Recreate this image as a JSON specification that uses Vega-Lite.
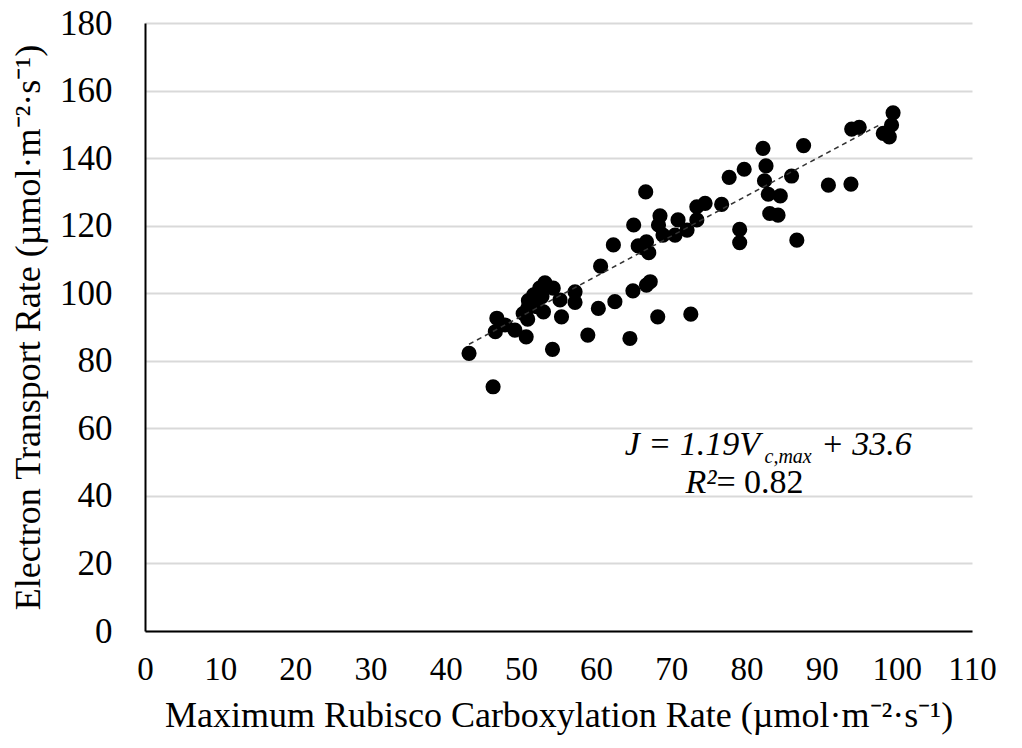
{
  "$schema": "https://vega.github.io/schema/vega-lite/v6.json",
  "width": 827,
  "height": 608,
  "autosize": {"type": "none"},
  "padding": {"left": 145, "top": 23, "right": 50, "bottom": 117},
  "background": "white",
  "config": {"view": {"stroke": null}},
  "datasets": {
    "pts": [
      {"vcmax": 43.1, "j": 82.2}, {"vcmax": 46.3, "j": 72.3}, {"vcmax": 46.8, "j": 92.6},
      {"vcmax": 46.6, "j": 88.6}, {"vcmax": 47.9, "j": 90.6}, {"vcmax": 49.2, "j": 89.1},
      {"vcmax": 50.7, "j": 87.1}, {"vcmax": 50.9, "j": 92.3}, {"vcmax": 50.9, "j": 95.5},
      {"vcmax": 51.0, "j": 97.8}, {"vcmax": 51.7, "j": 99.5}, {"vcmax": 52.5, "j": 101.5},
      {"vcmax": 53.2, "j": 103.1}, {"vcmax": 54.3, "j": 101.5}, {"vcmax": 52.1, "j": 96.0},
      {"vcmax": 53.0, "j": 94.5}, {"vcmax": 55.2, "j": 98.0}, {"vcmax": 55.4, "j": 93.0},
      {"vcmax": 54.2, "j": 83.4}, {"vcmax": 57.2, "j": 100.4}, {"vcmax": 57.2, "j": 97.3},
      {"vcmax": 58.9, "j": 87.6}, {"vcmax": 60.3, "j": 95.5}, {"vcmax": 62.5, "j": 97.5},
      {"vcmax": 64.5, "j": 86.6}, {"vcmax": 64.9, "j": 100.7}, {"vcmax": 60.6, "j": 108.0},
      {"vcmax": 62.3, "j": 114.3}, {"vcmax": 65.0, "j": 120.2}, {"vcmax": 66.6, "j": 130.0},
      {"vcmax": 65.6, "j": 114.0}, {"vcmax": 66.7, "j": 115.2}, {"vcmax": 67.0, "j": 112.0},
      {"vcmax": 66.7, "j": 102.4}, {"vcmax": 67.2, "j": 103.4}, {"vcmax": 68.2, "j": 93.0},
      {"vcmax": 72.6, "j": 93.8}, {"vcmax": 68.5, "j": 122.9}, {"vcmax": 68.3, "j": 120.2},
      {"vcmax": 68.9, "j": 117.2}, {"vcmax": 70.9, "j": 121.7}, {"vcmax": 70.5, "j": 117.2},
      {"vcmax": 72.1, "j": 118.7}, {"vcmax": 73.4, "j": 121.7}, {"vcmax": 73.4, "j": 125.6},
      {"vcmax": 74.5, "j": 126.6}, {"vcmax": 76.7, "j": 126.3}, {"vcmax": 77.7, "j": 134.3},
      {"vcmax": 79.7, "j": 136.7}, {"vcmax": 79.1, "j": 118.9}, {"vcmax": 79.1, "j": 115.0},
      {"vcmax": 82.2, "j": 142.9}, {"vcmax": 87.6, "j": 143.7}, {"vcmax": 82.6, "j": 137.7},
      {"vcmax": 82.4, "j": 133.3}, {"vcmax": 82.9, "j": 129.3}, {"vcmax": 84.5, "j": 128.8},
      {"vcmax": 86.0, "j": 134.7}, {"vcmax": 83.1, "j": 123.6}, {"vcmax": 84.2, "j": 123.1},
      {"vcmax": 90.9, "j": 132.0}, {"vcmax": 93.9, "j": 132.3}, {"vcmax": 94.0, "j": 148.6},
      {"vcmax": 95.0, "j": 149.1}, {"vcmax": 99.5, "j": 153.4}, {"vcmax": 99.3, "j": 149.8},
      {"vcmax": 98.2, "j": 147.3}, {"vcmax": 99.0, "j": 146.3}, {"vcmax": 86.7, "j": 115.7},
      {"vcmax": 50.3, "j": 94.0}, {"vcmax": 52.8, "j": 99.0}, {"vcmax": 66.2, "j": 113.5}
    ],
    "trend": [{"vcmax": 43.1, "j": 84.9}, {"vcmax": 98.0, "j": 150.2}]
  },
  "layer": [
    {
      "data": {"name": "pts"},
      "mark": {"type": "circle", "size": 230, "color": "black", "opacity": 1},
      "encoding": {
        "x": {
          "field": "vcmax", "type": "quantitative",
          "scale": {"domain": [0, 110], "nice": false},
          "axis": {
            "values": [0, 10, 20, 30, 40, 50, 60, 70, 80, 90, 100, 110],
            "grid": false,
            "ticks": false,
            "domainColor": "black",
            "domainWidth": 2,
            "labelFlush": false,
            "labelFont": "Times New Roman",
            "titleFont": "Times New Roman",
            "labelColor": "black",
            "titleColor": "black",
            "titleFontWeight": "normal",
            "labelFontSize": 33,
            "titleFontSize": 36,
            "labelPadding": 22,
            "titlePadding": 12,
            "title": "Maximum Rubisco Carboxylation Rate (µmol·m⁻²·s⁻¹)"
          }
        },
        "y": {
          "field": "j", "type": "quantitative",
          "scale": {"domain": [0, 180], "nice": false},
          "axis": {
            "values": [0, 20, 40, 60, 80, 100, 120, 140, 160, 180],
            "grid": true,
            "gridColor": "#d9d9d9",
            "gridWidth": 2,
            "ticks": false,
            "domainColor": "black",
            "domainWidth": 2,
            "labelFlush": false,
            "labelFont": "Times New Roman",
            "titleFont": "Times New Roman",
            "labelColor": "black",
            "titleColor": "black",
            "titleFontWeight": "normal",
            "labelFontSize": 35,
            "titleFontSize": 36,
            "labelPadding": 33,
            "titlePadding": 12,
            "title": "Electron Transport Rate (µmol·m⁻²·s⁻¹)"
          }
        }
      }
    },
    {
      "data": {"name": "trend"},
      "mark": {"type": "line", "color": "#333333", "strokeWidth": 1.5, "strokeDash": [5, 4]},
      "encoding": {
        "x": {"field": "vcmax", "type": "quantitative"},
        "y": {"field": "j", "type": "quantitative"}
      }
    },
    {
      "data": {"values": [{"vcmax": 81.8, "j": 52.1, "t": "J = 1.19V"}]},
      "mark": {"type": "text", "align": "right", "baseline": "alphabetic", "fontSize": 34, "fontStyle": "italic", "font": "Times New Roman", "color": "black"},
      "encoding": {
        "x": {"field": "vcmax", "type": "quantitative"},
        "y": {"field": "j", "type": "quantitative"},
        "text": {"field": "t"}
      }
    },
    {
      "data": {"values": [{"vcmax": 82.4, "j": 49.6, "t": "c,max"}]},
      "mark": {"type": "text", "align": "left", "baseline": "alphabetic", "fontSize": 20, "fontStyle": "italic", "font": "Times New Roman", "color": "black"},
      "encoding": {
        "x": {"field": "vcmax", "type": "quantitative"},
        "y": {"field": "j", "type": "quantitative"},
        "text": {"field": "t"}
      }
    },
    {
      "data": {"values": [{"vcmax": 89.9, "j": 52.1, "t": "+ 33.6"}]},
      "mark": {"type": "text", "align": "left", "baseline": "alphabetic", "fontSize": 34, "fontStyle": "italic", "font": "Times New Roman", "color": "black"},
      "encoding": {
        "x": {"field": "vcmax", "type": "quantitative"},
        "y": {"field": "j", "type": "quantitative"},
        "text": {"field": "t"}
      }
    },
    {
      "data": {"values": [{"vcmax": 76.0, "j": 40.9, "t": "R²"}]},
      "mark": {"type": "text", "align": "right", "baseline": "alphabetic", "fontSize": 34, "fontStyle": "italic", "font": "Times New Roman", "color": "black"},
      "encoding": {
        "x": {"field": "vcmax", "type": "quantitative"},
        "y": {"field": "j", "type": "quantitative"},
        "text": {"field": "t"}
      }
    },
    {
      "data": {"values": [{"vcmax": 76.0, "j": 40.9, "t": " = 0.82"}]},
      "mark": {"type": "text", "align": "left", "baseline": "alphabetic", "fontSize": 34, "font": "Times New Roman", "color": "black"},
      "encoding": {
        "x": {"field": "vcmax", "type": "quantitative"},
        "y": {"field": "j", "type": "quantitative"},
        "text": {"field": "t"}
      }
    }
  ]
}
